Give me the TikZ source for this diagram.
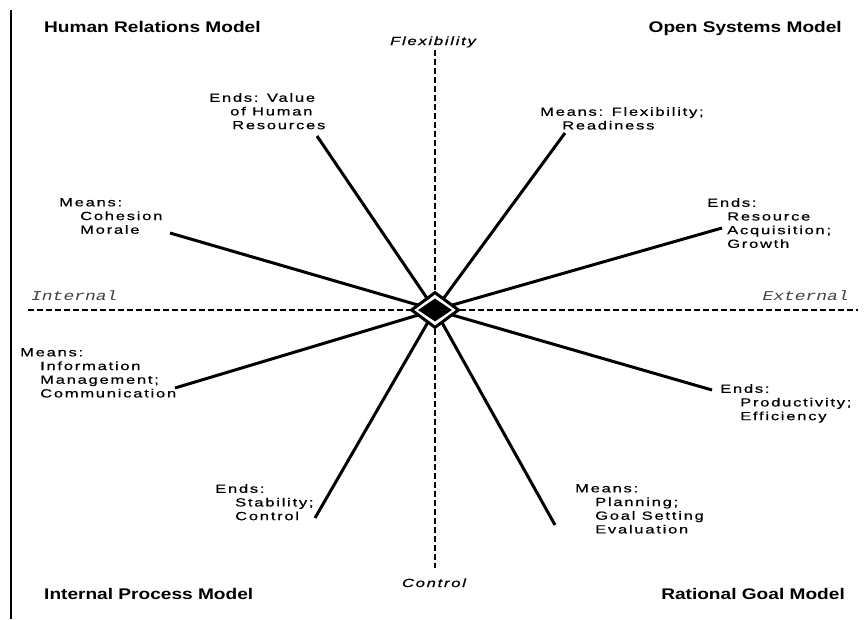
\documentclass[tikz,border=0pt]{standalone}
\usepackage{fontspec}
\setmainfont{Liberation Sans}
\newfontfamily\lblfont[FakeStretch=1.4,LetterSpace=15,FakeBold=0.6]{Liberation Sans}
\newfontfamily\ttlfont[FakeStretch=1.24]{Liberation Sans}
\newfontfamily\sidefont[FakeStretch=1.33]{Liberation Mono}
\usetikzlibrary{shapes.geometric}
\begin{document}
\begin{tikzpicture}[x=1pt,y=-1pt,
  lbl/.style={font=\lblfont\fontsize{11.8}{13.7}\selectfont, align=left, anchor=north west, inner sep=0pt},
  ttl/.style={font=\ttlfont\bfseries\fontsize{15.4}{18}\selectfont, inner sep=0pt},
  axlbl/.style={font=\lblfont\itshape\fontsize{11.8}{13.7}\selectfont, inner sep=0pt, anchor=base},
  sidelbl/.style={font=\sidefont\itshape\fontsize{13.5}{15}\selectfont, inner sep=0pt, text=black!75},
  axisline/.style={line width=2pt, dash pattern=on 6pt off 3pt},
  spoke/.style={line width=3pt}]
\path[use as bounding box, fill=white] (0,0) rectangle (868,619);
% left border
\coordinate (bt) at (11,10);
\coordinate (bb) at (11,619);
\draw[line width=1.5pt] (bt) -- (bb);
% centre and axes
\coordinate (c) at (435,310);
\coordinate (axt) at (435,50);
\coordinate (axb) at (435,568);
\coordinate (axl) at (28,310);
\coordinate (axr) at (858,310);
\draw[axisline] (axt) -- (axb);
\draw[axisline] (axl) -- (axr);
% spokes
\coordinate (s1) at (317,136);
\coordinate (s2) at (565,133);
\coordinate (s3) at (170,233);
\coordinate (s4) at (722,228);
\coordinate (s5) at (175,388);
\coordinate (s6) at (712,390);
\coordinate (s7) at (315,518);
\coordinate (s8) at (555,525);
\foreach \s in {s1,s2,s3,s4,s5,s6,s7,s8} \draw[spoke] (c) -- (\s);
% diamond
\node[draw, line width=3pt, fill=white, diamond, minimum width=48pt, minimum height=36pt, inner sep=0pt] (dia) at (c) {};
\node[fill=black, diamond, minimum width=34pt, minimum height=23pt, inner sep=0pt] (core) at (c) {};
% titles
\node[ttl, anchor=base west] (hrm) at (44,32.5) {Human Relations Model};
\node[ttl, anchor=base east] (osm) at (842,32.5) {Open Systems Model};
\node[ttl, anchor=base west] (ipm) at (44,599.5) {Internal Process Model};
\node[ttl, anchor=base east] (rgm) at (845,599.5) {Rational Goal Model};
% axis labels
\node[axlbl] (flex) at (433,45) {Flexibility};
\node[axlbl] (ctrl) at (434,587) {Control};
\node[sidelbl, anchor=base west] (int) at (31,300) {Internal};
\node[sidelbl, anchor=base east] (ext) at (849,300) {External};
% spoke labels
\node[lbl] (l1) at (209,93) {Ends: Value\\\hspace*{21pt}of Human\\\hspace*{23pt}Resources};
\node[lbl] (l2) at (540,107) {Means: Flexibility;\\\hspace*{22pt}Readiness};
\node[lbl] (l3) at (59,198) {Means:\\\hspace*{21pt}Cohesion\\\hspace*{21pt}Morale};
\node[lbl] (l4) at (707,198) {Ends:\\\hspace*{20pt}Resource\\\hspace*{20pt}Acquisition;\\\hspace*{20pt}Growth};
\node[lbl] (l5) at (20,348) {Means:\\\hspace*{20pt}Information\\\hspace*{20pt}Management;\\\hspace*{20pt}Communication};
\node[lbl] (l6) at (720,384) {Ends:\\\hspace*{20pt}Productivity;\\\hspace*{20pt}Efficiency};
\node[lbl] (l7) at (215,484) {Ends:\\\hspace*{20pt}Stability;\\\hspace*{20pt}Control};
\node[lbl] (l8) at (575,484) {Means:\\\hspace*{20pt}Planning;\\\hspace*{20pt}Goal Setting\\\hspace*{20pt}Evaluation};
\end{tikzpicture}
\end{document}
